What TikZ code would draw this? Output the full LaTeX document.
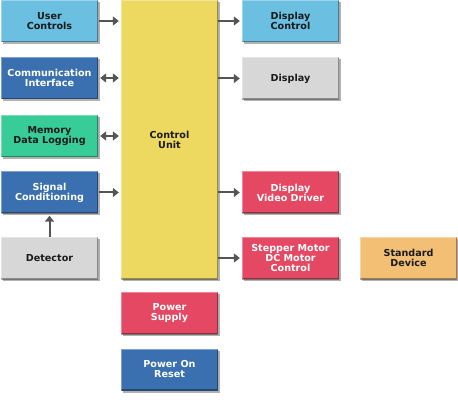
\documentclass[tikz,border=0pt]{standalone}
\usepackage{fontspec}
\setmainfont{DejaVu Sans}
\usetikzlibrary{arrows.meta, shadows}
\definecolor{ctllight}{HTML}{6BBFE0}
\definecolor{ctldark}{HTML}{3A70B0}
\definecolor{ctlgreen}{HTML}{37CC98}
\definecolor{ctlgray}{HTML}{D7D7D7}
\definecolor{ctlyellow}{HTML}{EDD860}
\definecolor{ctlred}{HTML}{E54862}
\definecolor{ctlorange}{HTML}{F2BF75}
\definecolor{ctlarrow}{HTML}{555555}
\definecolor{ctltext}{HTML}{1A1A1A}

\begin{document}
\begin{tikzpicture}[x=1pt, y=1pt,
  box/.style={minimum width=97pt, minimum height=42pt, inner sep=0pt, align=center,
    font=\fontsize{9.6}{10}\selectfont\bfseries,
    drop shadow={shadow xshift=2pt, shadow yshift=-2pt, fill=black, opacity=0.3},
    path picture={
      \draw[black, opacity=0.35, line width=2.5pt]
        (path picture bounding box.south west) -- (path picture bounding box.south east)
        -- (path picture bounding box.north east);
      \draw[white, opacity=0.35, line width=2pt]
        (path picture bounding box.south west) -- (path picture bounding box.north west)
        -- (path picture bounding box.north east);}},
  lightbox/.style={box, fill=#1, text=ctltext},
  darkbox/.style={box, fill=#1, text=white},
  arr/.style={draw=ctlarrow, line width=2pt, -{Triangle[length=6pt,width=9pt]}},
  dblarr/.style={draw=ctlarrow, line width=2pt,
    {Triangle[length=6pt,width=9pt]}-{Triangle[length=6pt,width=9pt]}}]
\useasboundingbox (0,0) rectangle (458,413);

% left column
\node[lightbox=ctllight] (user) at (49.5,392) {User\\Controls};
\node[darkbox=ctldark] (comm) at (49.5,335) {Communication\\Interface};
\node[lightbox=ctlgreen] (memory) at (49.5,277) {Memory\\Data Logging};
\node[darkbox=ctldark] (signal) at (49.5,220.5) {Signal\\Conditioning};
\node[lightbox=ctlgray] (detector) at (49.5,155) {Detector};

% middle column
\node[lightbox=ctlyellow, minimum height=279pt] (cpu) at (169.5,273.5) {Control\\Unit};
\node[darkbox=ctlred] (supply) at (169.5,100) {Power\\Supply};
\node[darkbox=ctldark] (reset) at (169.5,43.5) {Power On\\Reset};

% right column
\node[lightbox=ctllight] (dispctl) at (290.5,392) {Display\\Control};
\node[lightbox=ctlgray] (display) at (290.5,334.5) {Display};
\node[darkbox=ctlred] (video) at (290.5,220.5) {Display\\Video Driver};
\node[darkbox=ctlred] (motor) at (290.5,155) {Stepper Motor\\DC Motor\\Control};
\node[lightbox=ctlorange] (device) at (408.5,155) {Standard\\Device};

% connectors
\draw[arr, shorten <=1pt, shorten >=2pt] (user.east) -- (user.east -| cpu.west);
\draw[dblarr, shorten <=2pt, shorten >=2pt] (comm.east) -- (comm.east -| cpu.west);
\draw[dblarr, shorten <=2pt, shorten >=2pt] (memory.east) -- (memory.east -| cpu.west);
\draw[arr, shorten <=1pt, shorten >=2pt] (signal.east) -- (signal.east -| cpu.west);
\draw[arr, shorten >=2pt] (detector.north) -- (signal.south);
\draw[arr, shorten >=2pt] (cpu.east |- dispctl.west) -- (dispctl.west);
\draw[arr, shorten >=2pt] (cpu.east |- display.west) -- (display.west);
\draw[arr, shorten >=2pt] (cpu.east |- video.west) -- (video.west);
\draw[arr, shorten >=2pt] (cpu.east |- motor.west) -- (motor.west);
\end{tikzpicture}
\end{document}
